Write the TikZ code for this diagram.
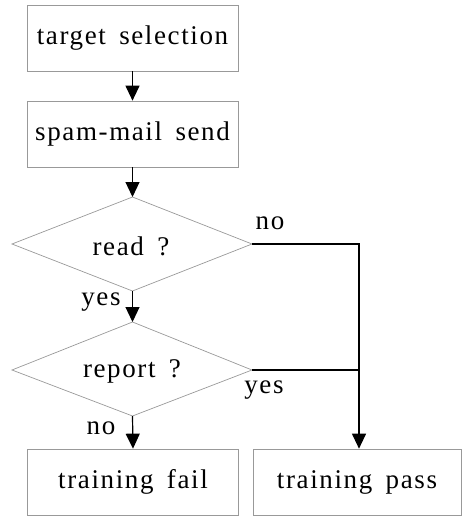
\documentclass[tikz,border=0pt]{standalone}
\usepackage{fontspec}
\setmainfont[LetterSpace=6,WordSpace=1.6]{Liberation Serif}
\usetikzlibrary{arrows.meta,shapes.geometric}
\begin{document}
\begin{tikzpicture}[x=1pt,y=-1pt,
  box/.style={draw=gray!80,line width=0.7pt,minimum width=211pt,minimum height=66pt,inner sep=0pt,font=\fontsize{27}{30}\selectfont},
  lab/.style={font=\fontsize{27}{30}\selectfont,inner sep=0pt},
  dline/.style={draw=gray!80,line width=0.7pt},
  conn/.style={line width=1.2pt,-{Triangle[length=15pt,width=14pt]}}]
\useasboundingbox (0,0) rectangle (461,516);
\node[box] (sel) at (132.5,38) {target selection};
\node[box] (spam) at (132.5,134) {spam-mail send};
\draw[dline] (12,244) -- (132.5,197) -- (252,244) -- (132.5,291) -- cycle;
\node[lab] (read) at (131,246) {read ?};
\draw[dline] (12,370) -- (132.5,322) -- (252,370) -- (132.5,416) -- cycle;
\node[lab] (report) at (132,371) {report ?};
\node[box] (fail) at (133,482) {training fail};
\node[box,minimum width=208pt] (pass) at (357,482) {training pass};
\coordinate (rt) at (132.5,197);
\coordinate (rb) at (132.5,291);
\coordinate (pt) at (132.5,322);
\coordinate (pb) at (132.5,416);
\coordinate (rr) at (252,244);
\coordinate (pr) at (252,370);
\coordinate (c1) at (359,244);
\coordinate (c2) at (359,370);
\draw[conn] (sel.south) -- (spam.north);
\draw[conn] (spam.south) -- (rt);
\draw[conn] (rb) -- (pt);
\draw[conn] (pb) -- (fail.north);
\draw[line width=1.2pt] (rr) -- (c1) -- (c2);
\draw[line width=1.2pt] (pr) -- (c2);
\draw[conn] (c2) -- (c2 |- pass.north);
\node[lab] (no1) at (270,223) {no};
\node[lab] (yes1) at (101,302) {yes};
\node[lab] (yes2) at (264,390) {yes};
\node[lab] (no2) at (101,428) {no};
\end{tikzpicture}
\end{document}
